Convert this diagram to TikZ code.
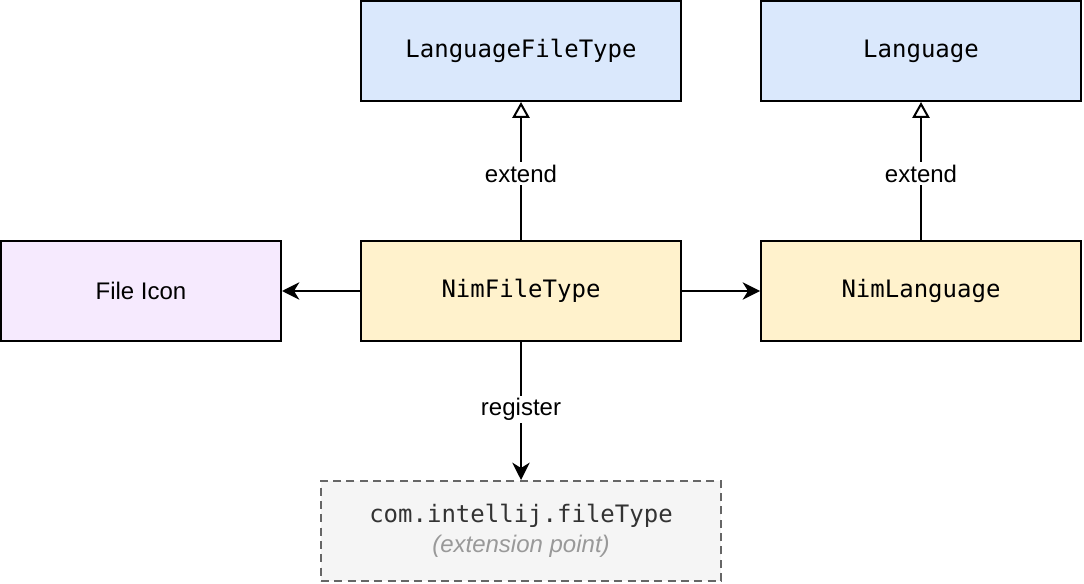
\documentclass[tikz,border=0pt]{standalone}
\usepackage{fontspec}
\setmainfont{Liberation Sans}
\setmonofont{DejaVu Sans Mono}
\usetikzlibrary{arrows.meta}
\definecolor{cblue}{HTML}{DAE8FC}
\definecolor{cyellow}{HTML}{FFF2CC}
\definecolor{cpurple}{HTML}{F6EAFE}
\definecolor{cgrayfill}{HTML}{F5F5F5}
\definecolor{cgraydraw}{HTML}{666666}
\definecolor{cdarktext}{HTML}{333333}
\definecolor{clighttext}{HTML}{999999}
\tikzset{
  box/.style={draw=black, line width=1.5pt, minimum width=240pt, minimum height=75pt, inner sep=0pt, font=\ttfamily\fontsize{18}{22}\selectfont},
  bluebox/.style={box, fill=cblue},
  yellowbox/.style={box, fill=cyellow},
  iconbox/.style={box, fill=cpurple, minimum width=210pt, font=\fontsize{18}{22}\selectfont},
  extbox/.style={draw=cgraydraw, fill=cgrayfill, line width=1.5pt, dash pattern=on 6pt off 4pt, minimum width=300pt, minimum height=75pt, inner sep=0pt, align=center},
  conn/.style={draw=black, line width=1.5pt},
  inherit/.style={conn, -{Triangle[open, length=12pt, width=13pt, fill=white, line width=1.5pt]}},
  assoc/.style={conn, -{Stealth[length=13pt, width=13pt, inset=4pt]}},
  lbl/.style={fill=white, inner sep=2pt, font=\fontsize{18}{22}\selectfont}
}
\begin{document}
\begin{tikzpicture}[x=0.75pt, y=-0.75pt]
\useasboundingbox (0,0) rectangle (1084,584);
\node[bluebox] (lft) at (521,51) {LanguageFileType};
\node[bluebox] (lang) at (921,51) {Language};
\node[iconbox] (icon) at (141,291) {File Icon};
\node[yellowbox] (nft) at (521,291) {NimFileType};
\node[yellowbox] (nl) at (921,291) {NimLanguage};
\node[extbox] (ext) at (521,531) {{\ttfamily\fontsize{18}{22}\selectfont\color{cdarktext}com.intellij.fileType}\\[5pt]{\itshape\fontsize{18}{22}\selectfont\color{clighttext}(extension point)}};
\draw[inherit] (nft.north) -- node[lbl, pos=0.48] {extend} (lft.south);
\draw[inherit] (nl.north) -- node[lbl, pos=0.48] {extend} (lang.south);
\draw[assoc] (nft.west) -- (icon.east);
\draw[assoc] (nft.east) -- (nl.west);
\draw[assoc] (nft.south) -- node[lbl, pos=0.49] {register} (ext.north);
\end{tikzpicture}
\end{document}
